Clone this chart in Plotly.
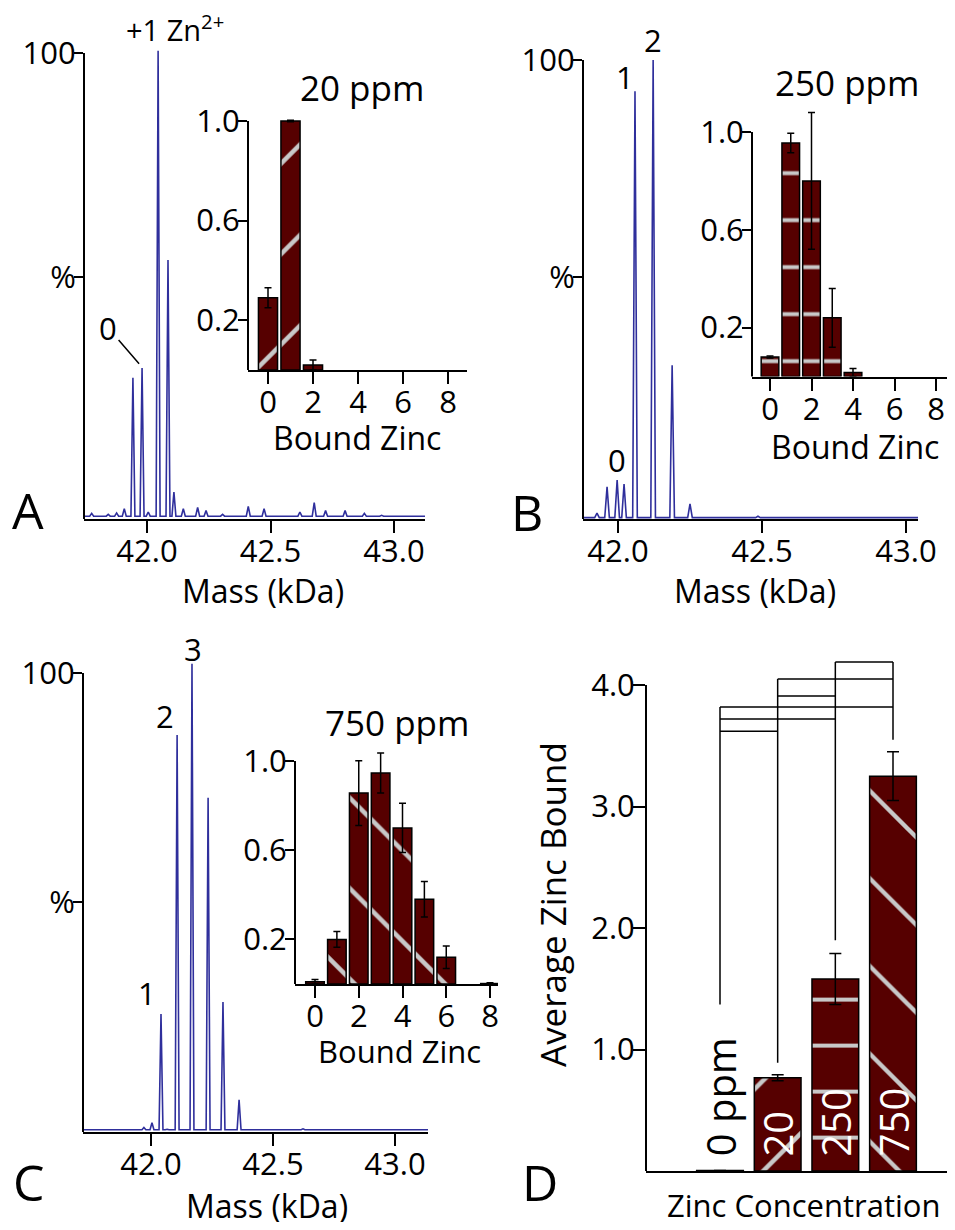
import plotly.graph_objects as go

# reference canvas (pixels); the plot div sits inside the page's 8 px body margin
W, H = 955, 1230
OX, OY = 8, 8
FW, FH = W - 2 * OX, H - 2 * OY
FONT = "Open Sans"
BLUE = "#2f2f9c"
MAROON = "#560000"
STRIPE = "#c8c8c8"

# ---------------- data ----------------
# Panel A spectrum: peak masses (kDa) and relative intensities (%)
a_mass = [41.776, 41.843, 41.877, 41.908, 41.943, 41.980, 42.005, 42.045, 42.085, 42.109,
          42.147, 42.205, 42.239, 42.306, 42.410, 42.474, 42.619, 42.677, 42.723, 42.802,
          42.880, 42.950]
a_int = [1.2, 1.0, 1.3, 2.2, 30.3, 32.4, 1.5, 100.5, 55.6, 5.8,
         2.2, 2.5, 1.8, 1.0, 2.7, 2.2, 1.5, 3.5, 1.8, 1.8,
         1.2, 0.8]
a_base = 0.6
# Panel B spectrum
b_mass = [41.927, 41.962, 41.997, 42.021, 42.059, 42.122, 42.188, 42.250, 42.486]
b_int = [1.3, 7.0, 8.5, 7.6, 93.2, 100.0, 33.5, 3.3, 0.6]
b_base = 0.3
# Panel C spectrum
c_mass = [41.779, 41.971, 42.004, 42.041, 42.066, 42.107, 42.168, 42.234, 42.295, 42.361,
          42.623, 43.086]
c_int = [0.4, 1.0, 2.0, 25.7, 0.6, 86.5, 102.0, 72.8, 28.3, 7.0, 0.7, 0.5]
c_base = 0.5

# Insets: fraction of each bound-zinc state
a_bound = [0, 1, 2]
a_frac = [0.29, 1.0, 0.02]
a_err = [0.04, 0.003, 0.02]
b_bound = [0, 1, 2, 3, 4]
b_frac = [0.08, 0.955, 0.80, 0.24, 0.016]
b_err = [0.004, 0.04, 0.28, 0.12, 0.017]
c_bound = [0, 1, 2, 3, 4, 5, 6, 8]
c_frac = [0.01, 0.20, 0.856, 0.946, 0.70, 0.38, 0.12, 0.002]
c_err = [0.01, 0.035, 0.145, 0.09, 0.11, 0.08, 0.05, 0.004]

# Panel D: average zinc bound
d_conc = ["0 ppm", "20", "250", "750"]
d_avg = [0.005, 0.767, 1.58, 3.25]
d_err = [0.0, 0.025, 0.21, 0.20]
# significance brackets: (from, to, height)
d_brackets = [(0, 3, 3.82), (0, 2, 3.72), (0, 1, 3.62), (1, 3, 4.05), (1, 2, 3.91), (2, 3, 4.19)]
d_drop = [1.37, 0.89, 1.90, 3.55]

main_xticks = [42.0, 42.5, 43.0]
inset_xticks = [0, 2, 4, 6, 8]
inset_yticks = [0.2, 0.6, 1.0]
d_yticks = [1.0, 2.0, 3.0, 4.0]


# ---------------- helpers ----------------
def fx(px):
    return min(1.0, max(0.0, (px - OX) / FW))


def fy(py):
    return min(1.0, max(0.0, 1 - (py - OY) / FH))


def xaxis_span(pl, pr, v1, p1, v2, p2):
    """domain (paper) and range for an x axis given its pixel extent and two tick positions"""
    pr = min(pr, OX + FW)
    s = (p2 - p1) / (v2 - v1)
    return [fx(pl), fx(pr)], [v1 + (pl - p1) / s, v1 + (pr - p1) / s]


def ydom(p0, pref, vref, vmax):
    top = p0 - vmax * (p0 - pref) / vref
    return [fy(p0), fy(top)]


def spectrum(masses, ints, base, xr, hw=0.008):
    xs, ys = [xr[0]], [base]
    for m, h in sorted(zip(masses, ints)):
        xs += [m - hw, m, m + hw]
        ys += [base, h, base]
    xs.append(xr[1])
    ys.append(base)
    return xs, ys


tickfont = dict(family=FONT, size=31, color="black")

axes = {
    # name: (x pixel extent + two tick anchors), (y0px, yrefpx, yref, ymax)
    "A": ((84, 425, 42.0, 147, 43.0, 394), (519, 53, 100, 104)),
    "B": ((583, 918, 42.0, 618, 43.0, 906), (519, 60, 100, 104)),
    "C": ((83, 428, 42.0, 151, 43.0, 395), (1132, 673, 100, 104)),
    "Ai": ((248, 467, 0, 268, 8, 448), (370, 121, 1.0, 1.06)),
    "Bi": ((752, 947, 0, 770, 8, 936), (376.5, 132, 1.0, 1.12)),
    "Ci": ((295, 498, 0, 315, 8, 490), (984, 761, 1.0, 1.08)),
    "D": ((646, 955, 0, 720, 3, 893), (1171, 685, 4.0, 4.25)),
}
order = ["A", "Ai", "B", "Bi", "C", "Ci", "D"]

fig = go.Figure()
layout = dict(width=FW, height=FH, margin=dict(l=0, r=0, t=0, b=0, pad=0, autoexpand=False),
              autosize=False, paper_bgcolor="white", plot_bgcolor="rgba(0,0,0,0)",
              showlegend=False, font=dict(family=FONT, color="black"))
shapes = []
ref = {}
xranges = {}
for i, name in enumerate(order):
    n = "" if i == 0 else str(i + 1)
    xspec, (p0, pref, vref, vmax) = axes[name]
    xdm, xr = xaxis_span(*xspec)
    xranges[name] = xr
    ydm = ydom(p0, pref, vref, vmax)
    ref[name] = ("x" + n, "y" + n)
    xa = dict(domain=xdm, range=xr, anchor="y" + n, showgrid=False, zeroline=False,
              showline=True, linecolor="black", linewidth=2, ticks="outside", ticklen=12,
              tickwidth=1.8, tickcolor="black", tickfont=tickfont, fixedrange=True,
              ticklabelstandoff=-8, automargin=False, ticklabeloverflow="allow")
    ya = dict(domain=ydm, range=[0, vmax], anchor="x" + n, showgrid=False, zeroline=False,
              showline=False, ticks="outside", ticklen=9, tickwidth=1.8, tickcolor="black",
              tickfont=tickfont, fixedrange=True, ticklabelstandoff=-8, automargin=False)
    if name in ("A", "B", "C"):
        xa.update(tickvals=main_xticks, ticktext=["%.1f" % v for v in main_xticks])
        pct = (p0 - (277 if name != "C" else 902)) / (p0 - pref) * 100
        ya.update(tickvals=[pct, 100], ticktext=["%", "100"])
    elif name == "D":
        xa.update(showticklabels=False, ticks="")
        ya.update(tickvals=d_yticks, ticktext=["%.1f" % v for v in d_yticks], ticklen=12)
    else:
        xa.update(tickvals=inset_xticks, ticktext=[str(v) for v in inset_xticks])
        ya.update(tickvals=inset_yticks, ticktext=["%.1f" % v for v in inset_yticks])
    layout["xaxis" + n] = xa
    layout["yaxis" + n] = ya
    # vertical axis line from 0 up to the top tick
    ylo = ydm[0]
    yhi = ydm[0] + (ydm[1] - ydm[0]) * vref / vmax
    shapes.append(dict(type="line", xref="paper", yref="paper", x0=xdm[0], x1=xdm[0],
                       y0=ylo, y1=yhi, line=dict(color="black", width=2)))

# spectra
for name, m, it, base in (("A", a_mass, a_int, a_base), ("B", b_mass, b_int, b_base),
                          ("C", c_mass, c_int, c_base)):
    xs, ys = spectrum(m, it, base, xranges[name])
    fig.add_trace(go.Scatter(x=xs, y=ys, mode="lines", line=dict(color=BLUE, width=1.6),
                             xaxis=ref[name][0], yaxis=ref[name][1], hoverinfo="skip"))

# inset bars
for name, bx, fyv, er, shp, sz, sol in (("Ai", a_bound, a_frac, a_err, "/", 64, 0.07),
                                        ("Bi", b_bound, b_frac, b_err, "-", 47, 0.09),
                                        ("Ci", c_bound, c_frac, c_err, "\\", 64, 0.07)):
    fig.add_trace(go.Bar(
        x=bx, y=fyv, width=0.85, xaxis=ref[name][0], yaxis=ref[name][1],
        marker=dict(color=MAROON, line=dict(color="black", width=1.5),
                    pattern=dict(shape=shp, fgcolor=STRIPE, bgcolor=MAROON, size=sz,
                                 solidity=sol, fillmode="replace")),
        error_y=dict(type="data", array=er, color="black", thickness=1.5, width=3.5)))

# panel D bars
fig.add_trace(go.Bar(
    x=list(range(len(d_conc))), y=d_avg, width=0.81, xaxis=ref["D"][0], yaxis=ref["D"][1],
    marker=dict(color=MAROON, line=dict(color="black", width=1.5),
                pattern=dict(shape=["", "/", "-", "\\"], fgcolor=STRIPE, bgcolor=MAROON,
                             size=[10, 64, 46, 62], solidity=[0.1, 0.07, 0.09, 0.07],
                             fillmode="replace")),
    error_y=dict(type="data", array=d_err, color="black", thickness=1.5, width=6)))

# significance brackets
bxs, bys = [], []
for i, j, h in d_brackets:
    bxs += [i, j, None]
    bys += [h, h, None]
for i, low in enumerate(d_drop):
    top = max(h for a, b, h in d_brackets if i in (a, b))
    bxs += [i, i, None]
    bys += [top, low, None]
fig.add_trace(go.Scatter(x=bxs, y=bys, mode="lines", line=dict(color="black", width=1.5),
                         xaxis=ref["D"][0], yaxis=ref["D"][1], hoverinfo="skip"))

ann = []


def pa(text, x, y, size=32, **kw):
    d = dict(text=text, x=fx(x), y=fy(y), xref="paper", yref="paper", showarrow=False,
             xanchor="center", yanchor="middle", font=dict(family=FONT, size=size, color="black"))
    d.update(kw)
    ann.append(d)


def da(name, text, x, y, dx, dy, size=31, **kw):
    d = dict(text=text, x=x, y=y, xref=ref[name][0], yref=ref[name][1], showarrow=False,
             xanchor="center", yanchor="middle", xshift=dx, yshift=dy,
             font=dict(family=FONT, size=size, color="black"))
    d.update(kw)
    ann.append(d)


# peak labels
da("A", "+1 Zn<sup>2+</sup>", a_mass[7], a_int[7], 17, 23, size=29)
ann.append(dict(text="0", x=41.968, y=33.3, xref=ref["A"][0], yref=ref["A"][1], showarrow=True,
                arrowhead=0, arrowwidth=1.5, arrowcolor="black", ax=-31, ay=-36,
                font=dict(family=FONT, size=31, color="black")))
da("B", "1", b_mass[4], b_int[4], -10, 14)
da("B", "2", b_mass[5], b_int[5], 0, 20)
da("B", "0", b_mass[2], b_int[2], 0, 20)
da("C", "1", c_mass[3], c_int[3], -14, 21)
da("C", "2", c_mass[5], c_int[5], -12, 19)
da("C", "3", c_mass[6], c_int[6], 1, 15)

# titles
pa("20 ppm", 362, 87, size=35)
pa("250 ppm", 847, 83, size=35)
pa("750 ppm", 397, 722, size=35)
# axis titles
pa("Bound Zinc", 357, 437)
pa("Bound Zinc", 855, 447)
pa("Bound Zinc", 399, 1051, size=31)
pa("Mass (kDa)", 263, 590)
pa("Mass (kDa)", 755, 590)
pa("Mass (kDa)", 267, 1205)
pa("Zinc Concentration", 803, 1205, size=31)
pa("Average Zinc Bound", 552, 905, size=35, textangle=-90)
# panel letters
pa("A", 28, 510, size=50)
pa("B", 527, 512, size=50)
pa("C", 29, 1182, size=50)
pa("D", 540, 1182, size=50)

# bar labels in D
for i, lab in enumerate(d_conc):
    col = "black" if i == 0 else "white"
    ann.append(dict(text=lab, x=i, y=0.1, xref=ref["D"][0], yref=ref["D"][1], showarrow=False,
                    textangle=-90, xanchor="center", yanchor="bottom",
                    font=dict(family=FONT, size=40, color=col)))

layout["shapes"] = shapes
layout["annotations"] = ann
fig.update_layout(**layout)
fig.write_html("out.html")
